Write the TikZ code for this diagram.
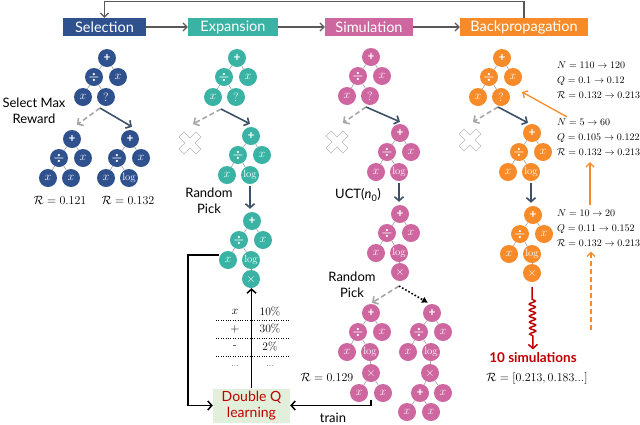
\documentclass[tikz,border=0pt]{standalone}
\usepackage{amsmath,amssymb}
\usepackage{fontspec}
\usetikzlibrary{arrows.meta,decorations.pathmorphing}
\newfontfamily\sansf{Lato}

\definecolor{selblue}{HTML}{2F528F}
\definecolor{expteal}{HTML}{3AB3A4}
\definecolor{simpink}{HTML}{CE66A0}
\definecolor{bporange}{HTML}{F78B2A}
\definecolor{pickgray}{HTML}{3E5067}
\definecolor{flowgray}{HTML}{595959}
\definecolor{qred}{HTML}{C00000}
\definecolor{qgreen}{HTML}{E2EFDA}

\newcommand{\logt}{{\fontsize{10.5}{10.5}\selectfont$\log$}}
\newcommand{\plust}{{\sansf\bfseries +}}

% upper part of an expression tree: + over (div, x), div over (x, #5)
\newcommand{\toptree}[5]{%
  \begin{scope}[shift={(#2,#3)}]
    \node[#4] (#1r) at (0,0) {\plust};
    \node[#4] (#1d) at (-13,19) {$\boldsymbol{\div}$};
    \node[#4] (#1x) at (11,19) {$x$};
    \node[#4] (#1a) at (-24,39) {$x$};
    \node[#4] (#1b) at (-1,39) {#5};
  \end{scope}
  \draw[treeline] (#1r) -- (#1d);
  \draw[treeline] (#1r) -- (#1x);
  \draw[treeline] (#1d) -- (#1a);
  \draw[treeline] (#1d) -- (#1b);
}

\begin{document}
\begin{tikzpicture}[x=1pt,y=-1pt,
  tnode/.style={circle,inner sep=0pt,minimum size=18pt,text=white,font=\fontsize{12}{12}\selectfont},
  sel/.style={tnode,fill=selblue},
  expn/.style={tnode,fill=expteal},
  simu/.style={tnode,fill=simpink},
  bkp/.style={tnode,fill=bporange},
  treeline/.style={draw=gray!75,line width=0.6pt},
  phase/.style={inner sep=0pt,minimum height=18pt,text=white,font=\sansf\fontsize{14.5}{14}\selectfont},
  flow/.style={draw=flowgray,line width=1.2pt,-{Straight Barb[length=4pt,width=8pt]}},
  pick/.style={draw=pickgray,line width=1.6pt,-{Straight Barb[length=4pt,width=9pt]}},
  skip/.style={draw=gray!70,line width=1.6pt,dash pattern=on 5pt off 3pt,-{Straight Barb[length=4pt,width=9pt]}},
  qline/.style={draw=black,line width=1.5pt,-{Straight Barb[length=4pt,width=9pt]}},
  upd/.style={draw=bporange,line width=1.3pt,-{Straight Barb[length=4pt,width=8pt]}},
  sanslbl/.style={font=\sansf\fontsize{13}{16}\selectfont,align=center},
  rlbl/.style={font=\fontsize{12.5}{14}\selectfont},
  stat/.style={anchor=west,inner sep=0pt,align=left,font=\fontsize{10}{15}\selectfont},
  tabtxt/.style={font=\fontsize{11.5}{12}\selectfont},
  xmark/.pic={\draw[gray!55,line width=0.6pt,fill=white,rotate=45]
    (-3.5,-12) -- (3.5,-12) -- (3.5,-3.5) -- (12,-3.5) -- (12,3.5) -- (3.5,3.5)
    -- (3.5,12) -- (-3.5,12) -- (-3.5,3.5) -- (-12,3.5) -- (-12,-3.5) -- (-3.5,-3.5) -- cycle;}]
\useasboundingbox (0,0) rectangle (640,424);

% Phase boxes
\node[phase,fill=selblue,minimum width=83pt] (hsel) at (104.5,27) {Selection};
\node[phase,fill=expteal,minimum width=90pt] (hexp) at (233,27) {Expansion};
\node[phase,fill=simpink,minimum width=88pt] (hsim) at (369,27) {Simulation};
\node[phase,fill=bporange,minimum width=128pt] (hbp) at (524,27) {Backpropagation};
\draw[flow] (hsel) -- (hexp);
\draw[flow] (hexp) -- (hsim);
\draw[flow] (hsim) -- (hbp);
\draw[flow] (hbp.north) -- ++(0,-16.5) -| (hsel.north);

% Selection
\toptree{s1}{107}{58}{sel}{?}
\toptree{s2}{72}{139}{sel}{$x$}
\toptree{s3}{130}{139}{sel}{\logt}
\coordinate (sfork) at (100,108);
\draw[skip] (sfork) -- ([shift={(5,-5)}]s2r.north);
\draw[pick] (sfork) -- ([shift={(2,-3)}]s3r.north);
\node[sanslbl] (smax) at (34,111) {Select Max\\Reward};
\node[rlbl] (rs2) at (60,200) {$\mathcal{R}=0.121$};
\node[rlbl] (rs3) at (128,200) {$\mathcal{R}=0.132$};

% Expansion
\toptree{e1}{237}{58}{expn}{?}
\coordinate (ecross) at (190,143);
\pic at (ecross) {xmark};
\toptree{e2}{251}{136}{expn}{\logt}
\coordinate (efork) at (221,109);
\draw[skip] (efork) -- ([shift={(3,-19)}]ecross);
\draw[pick] (efork) -- ([shift={(-1,-3)}]e2r.north);
\node[sanslbl] (erand) at (209,201) {Random\\Pick};
\toptree{e3}{252}{221}{expn}{\logt}
\node[expn] (e3m) at (251,279) {$\times$};
\draw[treeline] (e3b) -- (e3m);
\draw[pick] ([yshift=-2pt]e2b.south) -- ([yshift=3pt]e2b.south |- e3r.north);

% Action table
\node[tabtxt] (ta1) at (235,312) {$x$};
\node[tabtxt] (tb1) at (270,312) {10\%};
\node[tabtxt] (ta2) at (235,329) {$+$};
\node[tabtxt] (tb2) at (270,329) {30\%};
\node[tabtxt] (ta3) at (235,347) {-};
\node[tabtxt] (tb3) at (270,347) {2\%};
\node[tabtxt,font=\fontsize{8}{8}\selectfont] (ta4) at (235,366) {...};
\node[tabtxt,font=\fontsize{8}{8}\selectfont] (tb4) at (270,366) {...};
\draw[dotted] (216,320) -- (290,320);
\draw[dotted] (216,338) -- (290,338);
\draw[dotted] (216,356) -- (290,356);

% Double Q learning
\node[fill=qgreen,text=qred,minimum width=77pt,minimum height=34pt,inner sep=0pt,
  align=center,font=\sansf\fontsize{14}{16}\selectfont] (dq) at (251.5,405.5) {Double Q\\learning};
\draw[qline] (dq.north) -- (dq.north |- e3m.south);
\draw[qline] ([yshift=5pt]e3a.west) -- ++(-31,0) |- (dq.west);
\coordinate (trst) at (371,400);
\draw[qline] (trst) |- (dq.east);
\node[sanslbl] (trlbl) at (333,418) {train};

% Simulation
\toptree{p1}{371}{57}{simu}{?}
\coordinate (pcross) at (337,142);
\pic at (pcross) {xmark};
\toptree{p2}{400}{133}{simu}{\logt}
\coordinate (pfork) at (366,107);
\draw[skip] (pfork) -- ([shift={(6,-19)}]pcross);
\draw[pick] (pfork) -- ([shift={(0,-2)}]p2r.north);
\toptree{p3}{400}{214}{simu}{\logt}
\node[simu] (p3m) at (400,272) {$\times$};
\draw[treeline] (p3b) -- (p3m);
\draw[pick] ([yshift=-2pt]p2b.south) -- ([yshift=3pt]p2b.south |- p3r.north);
\node[sanslbl] (uct) at (358,195) {UCT(\textit{n}\textsubscript{0})};
\node[sanslbl] (prand) at (352,285) {Random\\Pick};
\toptree{p4}{371}{313}{simu}{\logt}
\node[simu] (p4m) at (371,373) {$\times$};
\node[simu] (p4a) at (359,393) {$x$};
\node[simu] (p4c) at (383,393) {$x$};
\draw[treeline] (p4b) -- (p4m);
\draw[treeline] (p4m) -- (p4a);
\draw[treeline] (p4m) -- (p4c);
\toptree{p5}{432}{313}{simu}{\logt}
\node[simu] (p5m) at (430,373) {$\times$};
\node[simu] (p5p) at (420,393) {\plust};
\node[simu] (p5c) at (443,393) {$x$};
\node[simu] (p5e) at (407,412) {$x$};
\node[simu] (p5f) at (431,412) {$x$};
\draw[treeline] (p5b) -- (p5m);
\draw[treeline] (p5m) -- (p5p);
\draw[treeline] (p5m) -- (p5c);
\draw[treeline] (p5p) -- (p5e);
\draw[treeline] (p5p) -- (p5f);
\coordinate (pfork2) at (399,286);
\draw[skip] (pfork2) -- ([shift={(1,-1)}]p4r.north);
\draw[line width=1.6pt,dotted,-{Latex[length=6pt,width=7pt]}] (pfork2) -- ([shift={(-4,-1)}]p5r.north);
\node[rlbl] (rp4) at (327,377) {$\mathcal{R}=0.129$};

% Backpropagation
\toptree{b1}{502}{58}{bkp}{?}
\coordinate (bcross) at (470,140);
\pic at (bcross) {xmark};
\toptree{b2}{532}{133}{bkp}{\logt}
\coordinate (bfork) at (498,107);
\draw[skip] (bfork) -- ([shift={(3,-18)}]bcross);
\draw[pick] (bfork) -- ([shift={(-4,-1)}]b2r.north);
\toptree{b3}{533}{215}{bkp}{\logt}
\node[bkp] (b3m) at (532,273) {$\times$};
\draw[treeline] (b3b) -- (b3m);
\draw[pick] ([yshift=-2pt]b2b.south) -- ([yshift=3pt]b2b.south |- b3r.north);

% Statistics
\node[stat] (st1) at (557,80) {$N=110\rightarrow120$\\$Q=0.1\rightarrow0.12$\\$\mathcal{R}=0.132\rightarrow0.213$};
\node[stat] (st2) at (557,137.5) {$N=5\rightarrow60$\\$Q=0.105\rightarrow0.122$\\$\mathcal{R}=0.132\rightarrow0.213$};
\node[stat] (st3) at (557,228) {$N=10\rightarrow20$\\$Q=0.11\rightarrow0.152$\\$\mathcal{R}=0.132\rightarrow0.213$};
\coordinate (btip) at (522,92);
\draw[upd] ([shift={(10,-2)}]st2.north west) -- (btip);
\draw[upd] ([shift={(33,-4)}]st3.north west) -- ([shift={(33,6)}]st2.south west);
\coordinate (dbot) at (591,330);
\draw[upd,dash pattern=on 5pt off 3pt] (dbot) -- ([shift={(34,5)}]st3.south west);

% Simulations
\node[text=qred,font=\sansf\bfseries\fontsize{13.5}{14}\selectfont] (tensim) at (533,358) {10 simulations};
\node[rlbl] (rlist) at (537,378) {$\mathcal{R}=[0.213,0.183...]$};
\draw[qred,line width=1.5pt,decorate,decoration={snake,amplitude=3pt,segment length=6pt,pre length=12pt,post length=12pt},
  -{Straight Barb[length=4pt,width=9pt]}] ([yshift=-5pt]b3m.south) -- (tensim.north);
\end{tikzpicture}
\end{document}
